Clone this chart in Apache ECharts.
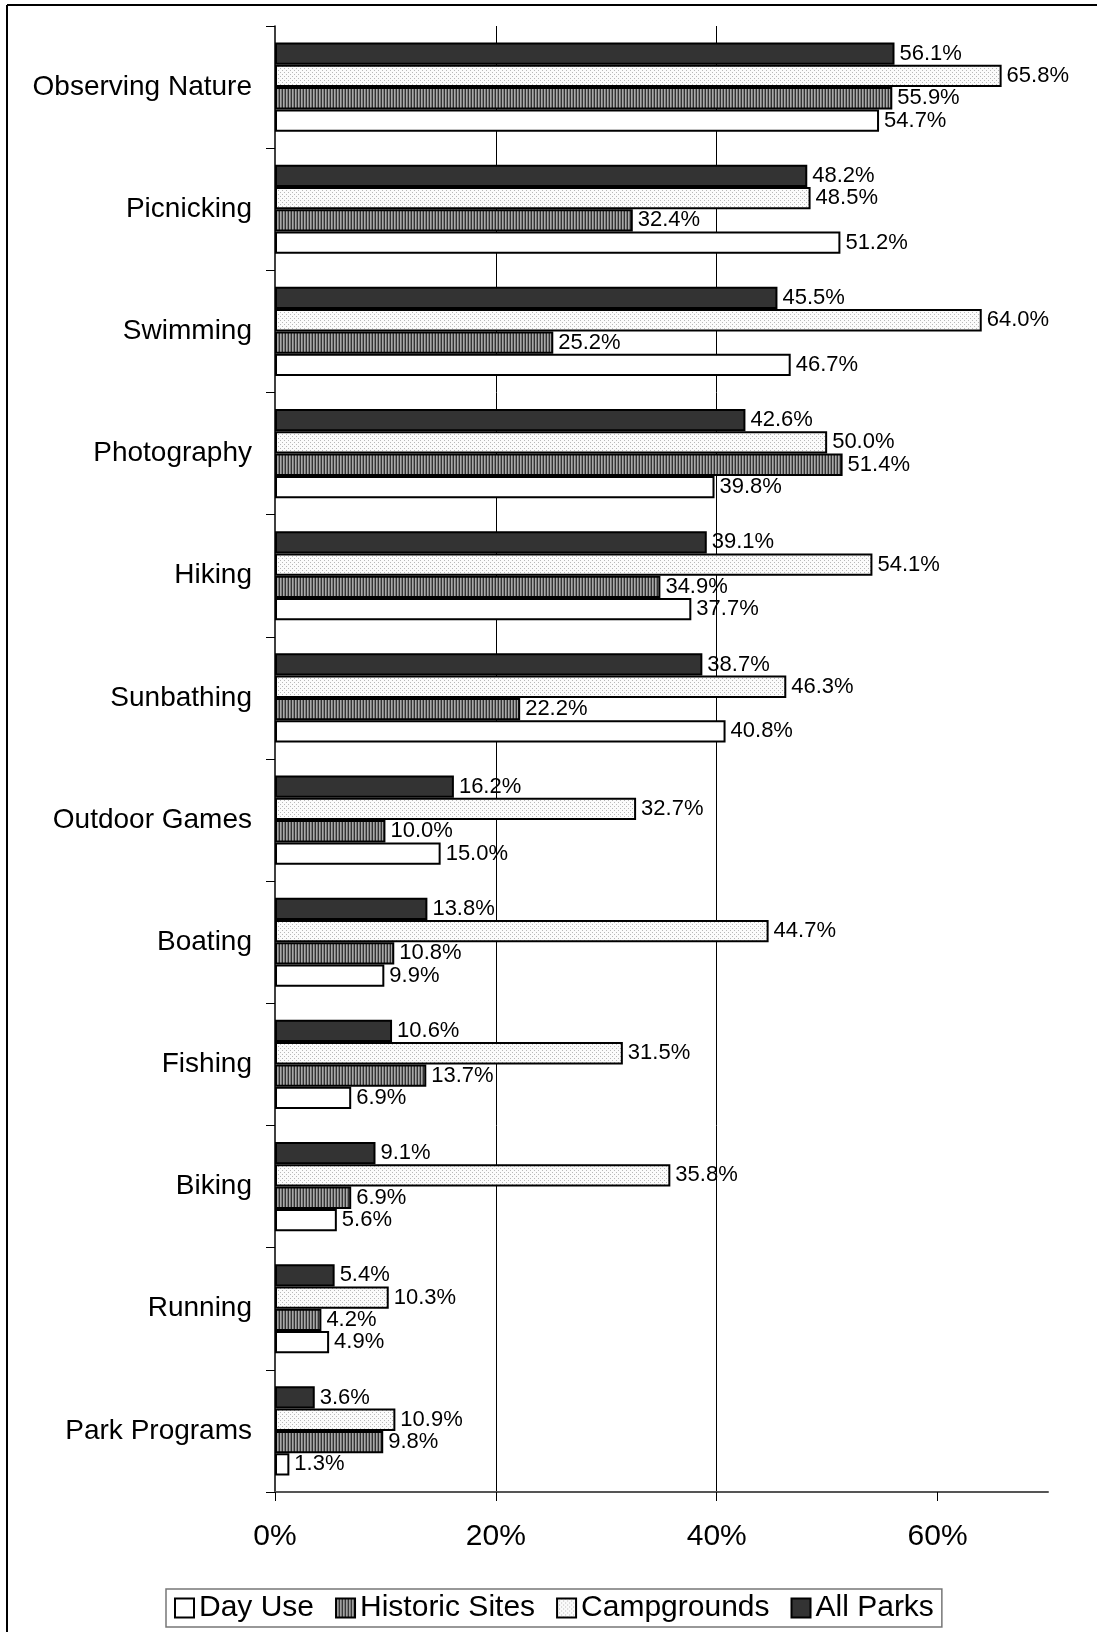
<!DOCTYPE html>
<html>
<head>
<meta charset="utf-8">
<script src="https://cdn.jsdelivr.net/npm/echarts@6/dist/echarts.min.js"></script>
<style>
html,body{margin:0;padding:0;background:#fff;}
#chart{width:1097px;height:1632px;}
</style>
</head>
<body>
<div id="chart"></div>
<script>
const categories = ['Observing Nature','Picnicking','Swimming','Photography','Hiking','Sunbathing','Outdoor Games','Boating','Fishing','Biking','Running','Park Programs'];
const allParks = [56.1,48.2,45.5,42.6,39.1,38.7,16.2,13.8,10.6,9.1,5.4,3.6];
const campgrounds = [65.8,48.5,64.0,50.0,54.1,46.3,32.7,44.7,31.5,35.8,10.3,10.9];
const historicSites = [55.9,32.4,25.2,51.4,34.9,22.2,10.0,10.8,13.7,6.9,4.2,9.8];
const dayUse = [54.7,51.2,46.7,39.8,37.7,40.8,15.0,9.9,6.9,5.6,4.9,1.3];
const xTicks = [0,20,40,60];

function dotted(){
  const c=document.createElement('canvas');c.width=4;c.height=4;
  const g=c.getContext('2d');g.fillStyle='#fbfbfb';g.fillRect(0,0,4,4);
  g.fillStyle='#b8b8b8';g.fillRect(0,0,1,1);g.fillRect(2,2,1,1);
  return c;
}
function striped(){
  const c=document.createElement('canvas');c.width=3;c.height=4;
  const g=c.getContext('2d');
  g.fillStyle='#333';g.fillRect(0,0,1,4);
  g.fillStyle='#a8a8a8';g.fillRect(1,0,1,4);
  g.fillStyle='#7a7a7a';g.fillRect(2,0,1,4);
  return c;
}
const dotFill={image:dotted(),repeat:'repeat'};
const stripeFill={image:striped(),repeat:'repeat'};

const font='Liberation Sans, Arial, sans-serif';
function mk(name,data,fill){
  return {
    name:name,type:'bar',data:data,barCategoryGap:'27%',barGap:'0%',
    itemStyle:{color:fill,borderColor:'#000',borderWidth:2},
    label:{show:true,position:'right',distance:5,fontFamily:font,fontSize:22,color:'#000',
      formatter:p=>p.value.toFixed(1)+'%'},
    animation:false
  };
}
const chart=echarts.init(document.getElementById('chart'),null,{renderer:'canvas'});
chart.setOption({
  animation:false,
  backgroundColor:'#fff',
  grid:{left:275,right:49,top:26,bottom:140,containLabel:false},
  legend:{
    data:['Day Use','Historic Sites','Campgrounds','All Parks'],
    bottom:5,left:166,
    itemWidth:19,itemHeight:19,itemGap:21,
    padding:[4,8,4,8],
    borderColor:'#777',borderWidth:1.5,
    textStyle:{fontFamily:font,fontSize:30,color:'#000'},
    icon:'rect'
  },
  xAxis:{
    type:'value',min:0,max:70,interval:20,
    axisLine:{show:true,lineStyle:{color:'#555',width:2}},
    axisTick:{show:true,length:9,lineStyle:{color:'#000'},customValues:xTicks},
    axisLabel:{fontFamily:font,fontSize:30,color:'#000',margin:30,customValues:xTicks,formatter:v=>v+'%'},
    splitLine:{show:true,showMinLine:false,showMaxLine:false,lineStyle:{color:'#000',width:1}}
  },
  yAxis:{
    type:'category',data:categories,inverse:true,
    axisLine:{show:true,lineStyle:{color:'#000',width:1.5}},
    axisTick:{show:true,length:9,lineStyle:{color:'#000'}},
    axisLabel:{fontFamily:font,fontSize:28,color:'#000',margin:23}
  },
  graphic:[
    {type:'line',shape:{x1:7,y1:5,x2:1097,y2:5},style:{stroke:'#000',lineWidth:2},silent:true},
    {type:'line',shape:{x1:7,y1:5,x2:7,y2:1632},style:{stroke:'#000',lineWidth:2},silent:true}
  ],
  series:[
    mk('All Parks',allParks,'#333'),
    mk('Campgrounds',campgrounds,dotFill),
    mk('Historic Sites',historicSites,stripeFill),
    mk('Day Use',dayUse,'#fff')
  ]
});
</script>
</body>
</html>
